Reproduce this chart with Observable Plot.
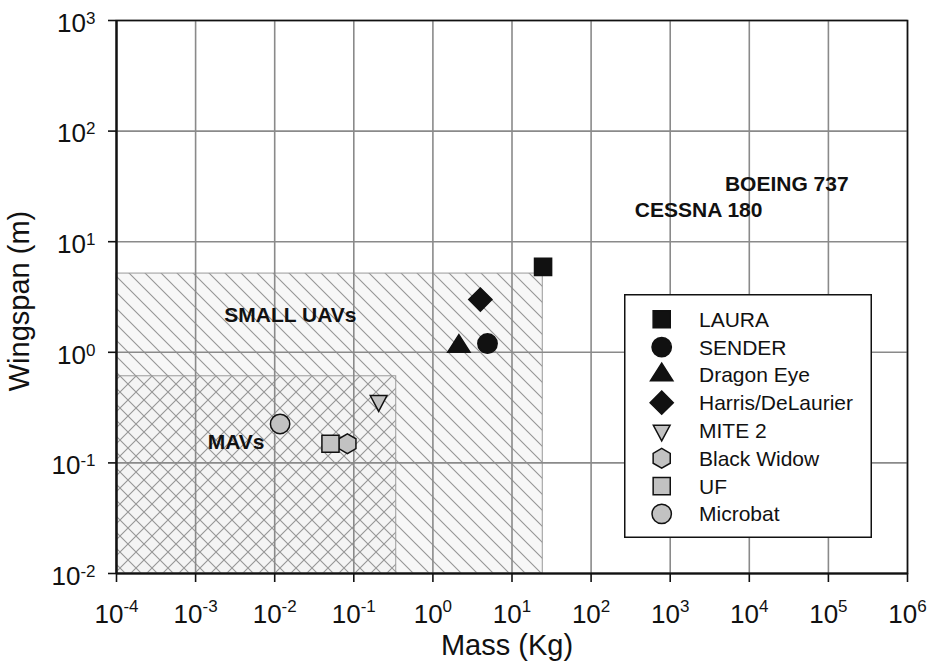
<!DOCTYPE html>
<html><head><meta charset="utf-8">
<script src="https://cdn.jsdelivr.net/npm/d3@7"></script>
<script src="https://cdn.jsdelivr.net/npm/@observablehq/plot@0.6"></script>
<style>
body{margin:0;background:#fff;font-family:"Liberation Sans",Arial,Helvetica,sans-serif;}
#wrap{position:relative;width:938px;height:665px;overflow:hidden;}
#legend{position:absolute;left:624px;top:294px;}
</style></head><body><div id="wrap"></div>
<script>
// ---- data ----
const names = ["LAURA","SENDER","Dragon Eye","Harris/DeLaurier","MITE 2","Black Widow","UF","Microbat"];
const mass  = [24.7, 4.9, 2.13, 3.98, 0.206, 0.083, 0.0507, 0.0117];
const span  = [5.92, 1.2, 1.13, 3.0, 0.364, 0.149, 0.149, 0.225];

const regionNames = ["SMALL UAVs","MAVs"];
const regionMass  = [24.5, 0.344];
const regionSpan  = [5.15, 0.607];

const labelNames = ["SMALL UAVs","MAVs","BOEING 737","CESSNA 180"];
const labelMass  = [0.0023, 0.00142, 4920, 357];
const labelSpan  = [2.15, 0.153, 33.4, 19.3];

const xTicks = [1e-4,1e-3,1e-2,1e-1,1e0,1e1,1e2,1e3,1e4,1e5,1e6];
const yTicks = [1e-2,1e-1,1e0,1e1,1e2,1e3];
const xLabel = "Mass (Kg)";
const yLabel = "Wingspan (m)";

// ---- styling helpers ----
const R = s => Math.sqrt(s / Math.PI);
const symSquare  = {draw(c,s){const h=0.9*R(s); c.rect(-h,-h,2*h,2*h);}};
const symCircle  = {draw(c,s){const r=1.02*R(s); c.moveTo(r,0); c.arc(0,0,r,0,2*Math.PI);}};
const symTriUp   = {draw(c,s){const r=R(s),w=1.18*r,h=1.85*r; c.moveTo(0,-2*h/3); c.lineTo(w,h/3); c.lineTo(-w,h/3); c.closePath();}};
const symDiamond = {draw(c,s){const d=1.22*R(s); c.moveTo(0,-d); c.lineTo(d,0); c.lineTo(0,d); c.lineTo(-d,0); c.closePath();}};
const symTriDown = {draw(c,s){const r=R(s),w=0.88*r,h=1.65*r; c.moveTo(0,2*h/3); c.lineTo(w,-h/3); c.lineTo(-w,-h/3); c.closePath();}};
const symHex     = {draw(c,s){const ry=1.04*R(s),rx=ry*Math.sqrt(3)/2; c.moveTo(0,-ry); c.lineTo(rx,-ry/2); c.lineTo(rx,ry/2); c.lineTo(0,ry); c.lineTo(-rx,ry/2); c.lineTo(-rx,-ry/2); c.closePath();}};
const symbolRange = [symSquare, symCircle, symTriUp, symDiamond, symTriDown, symHex, symSquare, symCircle];
const fillRange = ["#111","#111","#111","#111","#c2c2c2","#c2c2c2","#c2c2c2","#c2c2c2"];

const points = names.map((n,i)=>({name:n, mass:mass[i], span:span[i]}));
const regions = regionNames.map((n,i)=>({name:n, mass:regionMass[i], span:regionSpan[i]}));
const labels = labelNames.map((n,i)=>({name:n, mass:labelMass[i], span:labelSpan[i]}));
const xMin = xTicks[0], yMin = yTicks[0];
const fmt = d => "10^" + Math.round(Math.log10(d));
const FONT = '"Liberation Sans", Arial, Helvetica, sans-serif';

const chart = Plot.plot({
  width: 938, height: 665,
  marginLeft: 116, marginRight: 31, marginTop: 20, marginBottom: 92,
  style: {fontFamily: FONT, background: "#fff", color: "#111"},
  x: {type: "log", domain: [xTicks[0], xTicks[xTicks.length-1]]},
  y: {type: "log", domain: [yTicks[0], yTicks[yTicks.length-1]]},
  symbol: {domain: names, range: symbolRange},
  color: {type: "ordinal", domain: names, range: fillRange},
  marks: [
    Plot.rect(regions.slice(0,1), {x1: xMin, x2: "mass", y1: yMin, y2: "span", fill: "url(#hatchUAV)", stroke: "#9a9a9a", strokeWidth: 1}),
    Plot.rect(regions.slice(1,2), {x1: xMin, x2: "mass", y1: yMin, y2: "span", fill: "url(#hatchMAV)", stroke: "#9a9a9a", strokeWidth: 1}),
    Plot.gridX(xTicks, {stroke: "#8a8a8a", strokeOpacity: 1, strokeWidth: 1.6}),
    Plot.gridY(yTicks, {stroke: "#8a8a8a", strokeOpacity: 1, strokeWidth: 1.6}),
    Plot.frame({stroke: "#111", strokeWidth: 1.6}),
    Plot.ruleX([xMin], {stroke: "#111", strokeWidth: 2.2}),
    Plot.ruleY([yMin], {stroke: "#111", strokeWidth: 2.2}),
    Plot.axisX(xTicks, {tickSize: 9, fill: "none", stroke: "#111", strokeWidth: 1.6, label: null}),
    Plot.axisY(yTicks, {tickSize: 8, fill: "none", stroke: "#111", strokeWidth: 1.6, label: null}),
    Plot.axisX(xTicks, {tickSize: 0, tickPadding: 31, tickFormat: fmt, fontSize: 26, fill: "#111", label: null}),
    Plot.axisY(yTicks, {tickSize: 0, tickPadding: 21, tickFormat: fmt, fontSize: 26, fill: "#111", label: null, dy: 3}),
    Plot.text(labels, {x: "mass", y: "span", text: "name", textAnchor: "start", fontWeight: "bold", fontSize: 21, fill: "#111"}),
    Plot.dot(points, {x: "mass", y: "span", symbol: "name", fill: "name", stroke: "#111", strokeWidth: 1.5, r: 9.5}),
    Plot.text([xLabel], {frameAnchor: "bottom", textAnchor: "middle", lineAnchor: "middle", text: d => d, fontSize: 29, dy: 72.5, dx: -5, fill: "#111"}),
    Plot.text([yLabel], {frameAnchor: "left", textAnchor: "middle", lineAnchor: "middle", text: d => d, fontSize: 29, rotate: -90, dx: -97, dy: 4, fill: "#111"})
  ]
});

// hatch patterns
const svg = d3.select(chart);
const defs = svg.insert("defs", ":first-child");
const p1 = defs.append("pattern").attr("id","hatchUAV").attr("patternUnits","userSpaceOnUse").attr("width",16).attr("height",16);
p1.append("rect").attr("width",16).attr("height",16).attr("fill","#f7f7f7");
p1.append("path").attr("d","M-4,-4L20,20M-4,12L4,20M12,-4L20,4").attr("stroke","#969696").attr("stroke-width",1.1).attr("fill","none");
const p2 = defs.append("pattern").attr("id","hatchMAV").attr("patternUnits","userSpaceOnUse").attr("width",16).attr("height",16);
p2.append("rect").attr("width",16).attr("height",16).attr("fill","#f4f4f4");
p2.append("path").attr("d","M-4,-4L20,20M-4,12L4,20M12,-4L20,4M-4,20L20,-4M-4,4L4,-4M12,20L20,12").attr("stroke","#969696").attr("stroke-width",1.1).attr("fill","none");

// superscript tick labels
svg.selectAll('g[aria-label="x-axis tick label"] text, g[aria-label="y-axis tick label"] text').each(function(){
  const t = d3.select(this);
  const s = this.textContent;
  if (!s.includes("^")) return;
  const [base, exp] = s.split("^");
  const isX = this.parentNode.getAttribute("aria-label").startsWith("x");
  t.text(null);
  t.append("tspan").text(base);
  t.append("tspan").attr("font-size", 17).attr("dy", isX ? -11 : -8).text(exp);
});

const wrap = document.getElementById("wrap");
wrap.appendChild(chart);

// legend
const lw = 248, lh = 244;
const leg = d3.select(wrap).append("div").attr("id","legend")
  .append("svg").attr("width", lw).attr("height", lh).style("font-family", FONT);
leg.append("rect").attr("x",0.75).attr("y",0.75).attr("width",lw-1.5).attr("height",lh-1.5).attr("fill","#fff").attr("stroke","#111").attr("stroke-width",1.5);
names.forEach((n,i)=>{
  const cy = 25.3 + i*27.8;
  leg.append("path").attr("transform",`translate(37.7,${cy})`)
    .attr("d", d3.symbol(symbolRange[i], Math.PI*9.5*9.5)())
    .attr("fill", fillRange[i]).attr("stroke","#111").attr("stroke-width",1.5);
  leg.append("text").attr("x",75).attr("y",cy+7.5).attr("font-size",21).attr("fill","#111").text(n);
});
</script></body></html>
